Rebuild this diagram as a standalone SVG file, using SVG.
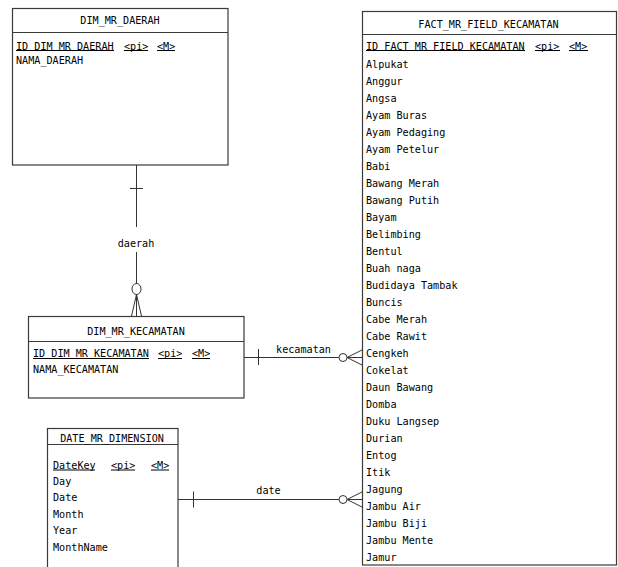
<svg xmlns="http://www.w3.org/2000/svg" width="618" height="567" viewBox="0 0 618 567">
<style>
.box{fill:#fff;stroke:#3a3a3a;stroke-width:1.2}
.sep{stroke:#3a3a3a;stroke-width:1.2}
.ln{stroke:#333;stroke-width:1;fill:none}
.ul{stroke:#000;stroke-width:1}
text{font-family:"DejaVu Sans Mono","Liberation Mono",monospace;font-size:10.7px;fill:#000}
.t{text-anchor:middle}
</style>
<rect width="618" height="567" fill="#fff"/>
<g id="connectors">
  <line class="ln" x1="136.5" y1="165" x2="136.5" y2="227"/>
  <line class="ln" x1="136.5" y1="252" x2="136.5" y2="284"/>
  <line class="ln" x1="130" y1="188.5" x2="143" y2="188.5"/>
  <ellipse class="ln" cx="136.5" cy="289" rx="4.5" ry="5.5"/>
  <path class="ln" d="M136.5,294.5 L131.5,316 M136.5,294.5 L136.5,316 M136.5,294.5 L141.5,316"/>
  <text class="t" x="136" y="247" textLength="36.6" lengthAdjust="spacingAndGlyphs">daerah</text>
  <line class="ln" x1="244" y1="357.5" x2="339" y2="357.5"/>
  <line class="ln" x1="258.5" y1="349" x2="258.5" y2="365"/>
  <circle class="ln" cx="343" cy="357.5" r="4"/>
  <path class="ln" d="M347,357.5 L362,350 M347,357.5 L362,357.5 M347,357.5 L362,365"/>
  <text class="t" x="303.5" y="353" textLength="54.9" lengthAdjust="spacingAndGlyphs">kecamatan</text>
  <line class="ln" x1="178" y1="499.5" x2="339" y2="499.5"/>
  <line class="ln" x1="193.5" y1="491.5" x2="193.5" y2="507.5"/>
  <circle class="ln" cx="343" cy="499.5" r="4"/>
  <path class="ln" d="M347,499.5 L362,492 M347,499.5 L362,499.5 M347,499.5 L362,507"/>
  <text class="t" x="268.5" y="494" textLength="24.4" lengthAdjust="spacingAndGlyphs">date</text>
</g>
<g id="DIM_MR_DAERAH">
  <rect class="box" x="12.5" y="8.5" width="215.5" height="156.5"/>
  <line class="sep" x1="12.5" y1="32.5" x2="228" y2="32.5"/>
  <text class="t" x="120" y="24" textLength="79.3" lengthAdjust="spacingAndGlyphs">DIM_MR_DAERAH</text>
  <text x="16" y="49.5" textLength="97.6" lengthAdjust="spacingAndGlyphs">ID DIM MR DAERAH</text>
  <text x="124" y="49.5" textLength="24.4" lengthAdjust="spacingAndGlyphs">&lt;pi&gt;</text>
  <text x="157" y="49.5" textLength="18.3" lengthAdjust="spacingAndGlyphs">&lt;M&gt;</text>
  <path class="ul" d="M16,50.5 H114 M124,50.5 H148 M157,50.5 H175"/>
  <text x="16" y="64" textLength="67.1" lengthAdjust="spacingAndGlyphs">NAMA_DAERAH</text>
</g>
<g id="DIM_MR_KECAMATAN">
  <rect class="box" x="28.5" y="316.5" width="215.5" height="81.5"/>
  <line class="sep" x1="28.5" y1="341.5" x2="244" y2="341.5"/>
  <text class="t" x="136" y="335" textLength="97.6" lengthAdjust="spacingAndGlyphs">DIM_MR_KECAMATAN</text>
  <text x="33" y="357" textLength="115.9" lengthAdjust="spacingAndGlyphs">ID DIM MR KECAMATAN</text>
  <text x="158" y="357" textLength="24.4" lengthAdjust="spacingAndGlyphs">&lt;pi&gt;</text>
  <text x="192" y="357" textLength="18.3" lengthAdjust="spacingAndGlyphs">&lt;M&gt;</text>
  <path class="ul" d="M33,358.5 H149 M158,358.5 H182 M192,358.5 H210"/>
  <text x="33" y="372.5" textLength="85.4" lengthAdjust="spacingAndGlyphs">NAMA_KECAMATAN</text>
</g>
<g id="DATE_MR_DIMENSION">
  <rect class="box" x="47.5" y="428.5" width="130.5" height="140"/>
  <line class="sep" x1="47.5" y1="444.5" x2="178" y2="444.5"/>
  <text class="t" x="112" y="442" textLength="103.7" lengthAdjust="spacingAndGlyphs">DATE_MR_DIMENSION</text>
  <text x="53" y="468.5" textLength="42.7" lengthAdjust="spacingAndGlyphs">DateKey</text>
  <text x="111" y="468.5" textLength="24.4" lengthAdjust="spacingAndGlyphs">&lt;pi&gt;</text>
  <text x="151" y="468.5" textLength="18.3" lengthAdjust="spacingAndGlyphs">&lt;M&gt;</text>
  <path class="ul" d="M53,470 H95 M111,470 H135 M151,470 H169"/>
  <text x="53" y="484.5" textLength="18.3" lengthAdjust="spacingAndGlyphs">Day</text>
  <text x="53" y="501" textLength="24.4" lengthAdjust="spacingAndGlyphs">Date</text>
  <text x="53" y="517.5" textLength="30.5" lengthAdjust="spacingAndGlyphs">Month</text>
  <text x="53" y="534" textLength="24.4" lengthAdjust="spacingAndGlyphs">Year</text>
  <text x="53" y="550.5" textLength="54.9" lengthAdjust="spacingAndGlyphs">MonthName</text>
</g>
<g id="FACT_MR_FIELD_KECAMATAN">
  <rect class="box" x="362.5" y="11.5" width="254" height="553.5"/>
  <line class="sep" x1="362.5" y1="34.5" x2="616.5" y2="34.5"/>
  <text class="t" x="488.5" y="28" textLength="140.3" lengthAdjust="spacingAndGlyphs">FACT_MR_FIELD_KECAMATAN</text>
  <text x="366" y="49.5" textLength="158.6" lengthAdjust="spacingAndGlyphs">ID FACT MR FIELD KECAMATAN</text>
  <text x="535" y="49.5" textLength="24.4" lengthAdjust="spacingAndGlyphs">&lt;pi&gt;</text>
  <text x="569" y="49.5" textLength="18.3" lengthAdjust="spacingAndGlyphs">&lt;M&gt;</text>
  <path class="ul" d="M366,50.5 H525 M535,50.5 H560 M569,50.5 H588"/>
  <text x="366" y="67.5" textLength="42.7" lengthAdjust="spacingAndGlyphs">Alpukat</text>
  <text x="366" y="84.5" textLength="36.6" lengthAdjust="spacingAndGlyphs">Anggur</text>
  <text x="366" y="101.5" textLength="30.5" lengthAdjust="spacingAndGlyphs">Angsa</text>
  <text x="366" y="118.5" textLength="61" lengthAdjust="spacingAndGlyphs">Ayam Buras</text>
  <text x="366" y="135.5" textLength="79.3" lengthAdjust="spacingAndGlyphs">Ayam Pedaging</text>
  <text x="366" y="152.5" textLength="73.2" lengthAdjust="spacingAndGlyphs">Ayam Petelur</text>
  <text x="366" y="169.5" textLength="24.4" lengthAdjust="spacingAndGlyphs">Babi</text>
  <text x="366" y="186.5" textLength="73.2" lengthAdjust="spacingAndGlyphs">Bawang Merah</text>
  <text x="366" y="203.5" textLength="73.2" lengthAdjust="spacingAndGlyphs">Bawang Putih</text>
  <text x="366" y="220.5" textLength="30.5" lengthAdjust="spacingAndGlyphs">Bayam</text>
  <text x="366" y="237.5" textLength="54.9" lengthAdjust="spacingAndGlyphs">Belimbing</text>
  <text x="366" y="254.5" textLength="36.6" lengthAdjust="spacingAndGlyphs">Bentul</text>
  <text x="366" y="271.5" textLength="54.9" lengthAdjust="spacingAndGlyphs">Buah naga</text>
  <text x="366" y="288.5" textLength="91.5" lengthAdjust="spacingAndGlyphs">Budidaya Tambak</text>
  <text x="366" y="305.5" textLength="36.6" lengthAdjust="spacingAndGlyphs">Buncis</text>
  <text x="366" y="322.5" textLength="61" lengthAdjust="spacingAndGlyphs">Cabe Merah</text>
  <text x="366" y="339.5" textLength="61" lengthAdjust="spacingAndGlyphs">Cabe Rawit</text>
  <text x="366" y="356.5" textLength="42.7" lengthAdjust="spacingAndGlyphs">Cengkeh</text>
  <text x="366" y="373.5" textLength="42.7" lengthAdjust="spacingAndGlyphs">Cokelat</text>
  <text x="366" y="390.5" textLength="67.1" lengthAdjust="spacingAndGlyphs">Daun Bawang</text>
  <text x="366" y="407.5" textLength="30.5" lengthAdjust="spacingAndGlyphs">Domba</text>
  <text x="366" y="424.5" textLength="73.2" lengthAdjust="spacingAndGlyphs">Duku Langsep</text>
  <text x="366" y="441.5" textLength="36.6" lengthAdjust="spacingAndGlyphs">Durian</text>
  <text x="366" y="458.5" textLength="30.5" lengthAdjust="spacingAndGlyphs">Entog</text>
  <text x="366" y="475.5" textLength="24.4" lengthAdjust="spacingAndGlyphs">Itik</text>
  <text x="366" y="492.5" textLength="36.6" lengthAdjust="spacingAndGlyphs">Jagung</text>
  <text x="366" y="509.5" textLength="54.9" lengthAdjust="spacingAndGlyphs">Jambu Air</text>
  <text x="366" y="526.5" textLength="61" lengthAdjust="spacingAndGlyphs">Jambu Biji</text>
  <text x="366" y="543.5" textLength="67.1" lengthAdjust="spacingAndGlyphs">Jambu Mente</text>
  <text x="366" y="560.5" textLength="30.5" lengthAdjust="spacingAndGlyphs">Jamur</text>
</g>
</svg>
